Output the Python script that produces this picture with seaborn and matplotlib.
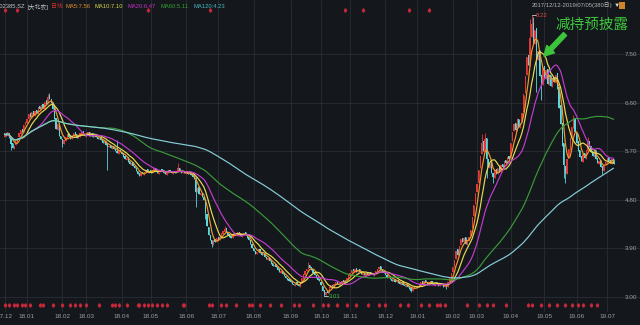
import matplotlib
matplotlib.use("Agg")
import matplotlib.pyplot as plt
import numpy as np
import pandas as pd
import seaborn as sns

# ---------------- data ----------------
start_date = "2017-12-12"
end_date = "2019-07-05"
exchange_holidays = [
    "2018-01-01", "2018-02-15", "2018-02-16", "2018-02-19", "2018-02-20", "2018-02-21",
    "2018-04-05", "2018-04-06", "2018-04-30", "2018-05-01", "2018-06-18", "2018-09-24",
    "2018-10-01", "2018-10-02", "2018-10-03", "2018-10-04", "2018-10-05", "2018-12-31",
    "2019-01-01", "2019-02-04", "2019-02-05", "2019-02-06", "2019-02-07", "2019-02-08",
    "2019-04-05", "2019-05-01", "2019-05-02", "2019-05-03", "2019-06-07",
]

close = [
    # 2017-12
    6.02, 5.98, 6.05, 5.95, 5.84, 5.76, 5.80, 5.88, 5.95, 6.03, 6.10, 6.06, 6.18, 6.24,
    # 2018-01
    6.30, 6.38, 6.33, 6.42, 6.36, 6.45, 6.40, 6.52, 6.48, 6.56, 6.50, 6.62, 6.58, 6.70,
    6.66, 6.60, 6.48, 6.30, 6.12, 6.20, 5.98, 5.92,
    # 2018-02
    5.84, 5.90, 5.96, 6.02, 5.97, 5.93, 5.99, 6.04, 6.00, 5.95, 5.98, 6.03, 6.06, 6.01, 5.98,
    # 2018-03
    6.02, 6.05, 5.99, 6.03, 5.97, 6.00, 5.96, 5.93, 5.95, 5.90, 5.86, 5.88, 5.82, 5.78,
    5.80, 5.76, 5.79, 5.74, 5.70, 5.66, 5.72, 5.68,
    # 2018-04
    5.64, 5.60, 5.55, 5.58, 5.50, 5.46, 5.49, 5.42, 5.38, 5.33, 5.28, 5.25, 5.30, 5.27,
    5.32, 5.36, 5.31, 5.34,
    # 2018-05
    5.30, 5.35, 5.38, 5.33, 5.29, 5.32, 5.36, 5.34, 5.30, 5.27, 5.31, 5.35, 5.33, 5.29,
    5.32, 5.30, 5.34, 5.38, 5.33, 5.30, 5.32, 5.29,
    # 2018-06
    5.31, 5.28, 5.30, 5.26, 5.22, 5.18, 4.95, 5.02, 4.90, 4.92, 4.85, 4.80, 4.55, 4.32,
    4.15, 4.05, 3.98, 4.06, 4.02, 4.10,
    # 2018-07
    4.06, 4.12, 4.18, 4.22, 4.26, 4.20, 4.15, 4.12, 4.10, 4.14, 4.18, 4.16, 4.20, 4.17,
    4.13, 4.16, 4.19, 4.15, 4.10, 4.05, 3.98, 3.90,
    # 2018-08
    3.85, 3.80, 3.84, 3.88, 3.82, 3.78, 3.80, 3.74, 3.70, 3.72, 3.66, 3.62, 3.58, 3.60,
    3.55, 3.50, 3.46, 3.48, 3.42, 3.38, 3.35, 3.32, 3.30,
    # 2018-09
    3.28, 3.24, 3.22, 3.26, 3.23, 3.20, 3.27, 3.35, 3.42, 3.48, 3.52, 3.58, 3.54, 3.50,
    3.45, 3.40, 3.36, 3.32, 3.30,
    # 2018-10
    3.22, 3.12, 3.05, 3.10, 3.08, 3.18, 3.22, 3.20, 3.25, 3.28, 3.24, 3.22, 3.26, 3.30,
    3.27, 3.32, 3.36, 3.40,
    # 2018-11
    3.45, 3.50, 3.48, 3.52, 3.47, 3.50, 3.46, 3.42, 3.44, 3.40, 3.43, 3.41, 3.45, 3.42,
    3.40, 3.44, 3.48, 3.52, 3.56, 3.50, 3.47, 3.44,
    # 2018-12
    3.40, 3.36, 3.38, 3.33, 3.30, 3.32, 3.28, 3.30, 3.26, 3.24, 3.27, 3.22, 3.20, 3.24,
    3.18, 3.15, 3.12, 3.16, 3.20, 3.18,
    # 2019-01
    3.20, 3.24, 3.28, 3.25, 3.30, 3.27, 3.23, 3.26, 3.29, 3.25, 3.22, 3.26, 3.24, 3.21,
    3.25, 3.22, 3.19, 3.24, 3.20, 3.28, 3.36, 3.45,
    # 2019-02
    3.55, 3.68, 3.85, 3.78, 3.95, 4.08, 4.02, 4.10, 3.98, 4.05, 4.12, 4.25, 4.48, 4.70, 4.92,
    # 2019-03
    5.10, 5.35, 5.62, 5.85, 5.70, 5.92, 5.55, 5.40, 5.48, 5.30, 5.22, 5.35, 5.28, 5.38,
    5.32, 5.45, 5.40, 5.52, 5.48, 5.60, 5.56,
    # 2019-04
    5.85, 6.05, 6.20, 6.10, 6.28, 6.15, 6.22, 6.40, 6.75, 7.10, 7.45, 7.30, 7.80, 8.05,
    7.70, 7.95, 7.40, 7.55, 7.10, 6.95, 7.25,
    # 2019-05
    7.05, 7.20, 6.95, 7.10, 6.90, 7.05, 6.98, 7.12, 6.85, 6.50, 6.20, 5.80, 5.45, 5.30,
    5.55, 5.75, 5.95, 6.15, 6.30, 6.05,
    # 2019-06
    5.85, 5.70, 5.60, 5.52, 5.65, 5.58, 5.72, 5.85, 5.78, 5.68, 5.62, 5.70, 5.55, 5.48,
    5.52, 5.40, 5.35, 5.45, 5.50,
    # 2019-07
    5.58, 5.52, 5.48, 5.55, 5.46,
]

open_price = [
    5.97, 6.03, 5.99, 6.04, 5.96, 5.85, 5.74, 5.81, 5.87, 5.96, 6.02, 6.12, 6.05, 6.19,
    6.22, 6.29, 6.40, 6.32, 6.44, 6.35, 6.47, 6.39, 6.54, 6.46, 6.58, 6.49, 6.64, 6.57,
    6.72, 6.67, 6.62, 6.50, 6.31, 6.10, 6.22, 5.99,
    5.93, 5.83, 5.89, 5.95, 6.03, 5.98, 5.92, 5.98, 6.05, 6.01, 5.94, 5.97, 6.02, 6.07, 6.00,
    5.97, 6.01, 6.06, 5.98, 6.04, 5.96, 6.01, 5.97, 5.92, 5.96, 5.91, 5.85, 5.89, 5.83,
    5.77, 5.81, 5.75, 5.80, 5.75, 5.71, 5.65, 5.73,
    5.69, 5.65, 5.61, 5.54, 5.59, 5.51, 5.45, 5.50, 5.43, 5.39, 5.34, 5.29, 5.24, 5.31,
    5.26, 5.31, 5.37, 5.30,
    5.35, 5.29, 5.34, 5.39, 5.34, 5.28, 5.31, 5.37, 5.35, 5.31, 5.26, 5.30, 5.36, 5.34,
    5.28, 5.33, 5.29, 5.33, 5.39, 5.34, 5.29, 5.33,
    5.28, 5.32, 5.27, 5.31, 5.27, 5.23, 5.16, 4.94, 5.03, 4.88, 4.93, 4.86, 4.78, 4.53,
    4.30, 4.14, 4.06, 3.97, 4.07, 4.01,
    4.11, 4.05, 4.11, 4.17, 4.21, 4.27, 4.21, 4.16, 4.13, 4.09, 4.13, 4.19, 4.15, 4.21,
    4.18, 4.12, 4.15, 4.20, 4.16, 4.11, 4.06, 3.99,
    3.91, 3.86, 3.79, 3.83, 3.89, 3.83, 3.77, 3.81, 3.75, 3.69, 3.73, 3.67, 3.63, 3.57,
    3.61, 3.56, 3.51, 3.45, 3.49, 3.43, 3.39, 3.36, 3.33,
    3.31, 3.29, 3.25, 3.21, 3.27, 3.24, 3.19, 3.26, 3.34, 3.41, 3.49, 3.51, 3.59, 3.55,
    3.51, 3.46, 3.41, 3.37, 3.33,
    3.28, 3.21, 3.13, 3.04, 3.11, 3.07, 3.17, 3.23, 3.19, 3.24, 3.29, 3.25, 3.21, 3.25,
    3.31, 3.26, 3.31, 3.35,
    3.39, 3.44, 3.51, 3.47, 3.53, 3.46, 3.51, 3.47, 3.41, 3.45, 3.39, 3.44, 3.40, 3.46,
    3.43, 3.39, 3.43, 3.47, 3.51, 3.57, 3.51, 3.48,
    3.45, 3.41, 3.35, 3.39, 3.34, 3.29, 3.33, 3.27, 3.31, 3.27, 3.23, 3.28, 3.23, 3.19,
    3.25, 3.19, 3.16, 3.11, 3.15, 3.21,
    3.17, 3.19, 3.23, 3.29, 3.24, 3.31, 3.28, 3.22, 3.25, 3.30, 3.26, 3.21, 3.27, 3.25,
    3.20, 3.26, 3.23, 3.18, 3.25, 3.19, 3.27, 3.35,
    3.46, 3.56, 3.70, 3.88, 3.77, 3.96, 4.10, 4.01, 4.12, 3.97, 4.04, 4.13, 4.27, 4.50, 4.72,
    4.95, 5.12, 5.38, 5.65, 5.88, 5.68, 5.95, 5.56, 5.38, 5.50, 5.29, 5.21, 5.37, 5.27,
    5.40, 5.31, 5.47, 5.39, 5.54, 5.46, 5.62,
    5.58, 5.88, 6.07, 6.22, 6.08, 6.30, 6.13, 6.24, 6.42, 6.78, 7.12, 7.48, 7.28, 7.82,
    8.08, 7.68, 7.98, 7.38, 7.58, 7.12, 6.93,
    7.28, 7.03, 7.22, 6.93, 7.12, 6.88, 7.07, 6.96, 7.14, 6.88, 6.55, 6.22, 5.85, 5.42,
    5.28, 5.57, 5.73, 5.97, 6.13, 6.32,
    6.03, 5.88, 5.72, 5.62, 5.50, 5.67, 5.56, 5.70, 5.88, 5.80, 5.70, 5.60, 5.72, 5.57,
    5.46, 5.54, 5.42, 5.33, 5.46,
    5.49, 5.60, 5.53, 5.47, 5.56,
]

# visible long shadows (day number -> extreme price)
upper_shadow_day = [27, 28, 31, 70, 108, 119, 137, 189, 297, 299, 319, 327, 328, 329, 354, 363]
upper_shadow_high = [6.76, 6.78, 6.55, 5.90, 5.48, 5.22, 4.32, 3.65, 6.02, 6.04, 6.32, 8.15, 8.22, 8.18, 6.37, 5.96]
lower_shadow_day = [4, 36, 64, 119, 125, 129, 199, 253, 275, 300, 304, 331, 334, 348, 349, 372]
lower_shadow_low = [5.72, 5.78, 5.35, 4.67, 4.45, 3.93, 3.01, 3.10, 3.15, 5.20, 5.12, 6.80, 6.65, 5.20, 5.11, 5.28]

ma_windows = [5, 10, 20, 60, 120]
ma_names = ["MA5", "MA10", "MA20", "MA60", "MA120"]
ma_header_values = ["7.56", "7.10", "6.47", "5.11", "4.23"]
price_ticks = [3.00, 3.90, 4.80, 5.70, 6.60, 7.50]

event_days_bottom = [0, 3, 6, 8, 11, 13, 16, 22, 24, 30, 36, 41, 44, 47, 51, 59, 67, 69, 71, 76,
                     83, 84, 87, 89, 92, 95, 98, 101, 111, 112, 127, 129, 135, 138, 144, 152,
                     154, 159, 165, 172, 180, 183, 192, 198, 201, 207, 213, 219, 226, 233, 237,
                     246, 251, 259, 264, 269, 271, 274, 288, 295, 300, 304, 312, 326, 328, 334,
                     339, 344, 349, 353, 357, 360, 365, 369]
event_days_top = [0, 8, 89, 128, 212, 223, 252, 264]

stock_code = "002385.SZ"
stock_name = "[大北农]"
period_name = "日线"
note_text = "减持预披露"

# ---------------- style ----------------
BG = "#14171c"
GRID = "#2a2e35"
UP = "#e23838"
DOWN = "#5ed6de"
TICK_C = "#9a9ea5"
ma_line_colors = ["#f29a25", "#e6dc55", "#c23ccf", "#3a9a3a", "#86cfd8"]
ma_text_colors = ["#e08f2a", "#d9d244", "#c030c0", "#33a033", "#45b8c2"]

sns.set_theme(style="dark", rc={"axes.facecolor": BG, "figure.facecolor": BG,
                                "savefig.facecolor": BG})
SMALL = ["Liberation Sans Narrow", "Liberation Sans", "Noto Sans CJK SC", "DejaVu Sans"]
plt.rcParams["font.family"] = SMALL

W, H = 640, 325
fig = plt.figure(figsize=(W / 100, H / 100), dpi=100)
ax = fig.add_axes([0, 13 / H, 1, 312 / H])
ax.set_facecolor(BG)

n = min(len(close), len(open_price))
o = np.array(open_price[:n], dtype=float)
c = np.array(close[:n], dtype=float)
days = np.arange(n)
dates = pd.bdate_range(start_date, end_date, freq="C", holidays=exchange_holidays)[:n]

hi = np.maximum(o, c)
lo = np.minimum(o, c)
hi[upper_shadow_day] = np.maximum(hi[upper_shadow_day], upper_shadow_high)
lo[lower_shadow_day] = np.minimum(lo[lower_shadow_day], lower_shadow_low)
is_up = c >= o
colors = np.where(is_up, UP, DOWN)

# candles
ax.vlines(days, lo, hi, colors=colors, linewidth=0.6, zorder=2)
body = np.maximum(np.abs(c - o), 0.012)
ax.bar(days, body, bottom=np.minimum(o, c), width=0.75, color=colors, linewidth=0, zorder=2)

# moving averages with seaborn
cs = pd.Series(c)
ma_df = pd.concat([
    pd.DataFrame({"day": days, "value": cs.rolling(w, min_periods=1).mean().values, "ma": name})
    for w, name in zip(ma_windows, ma_names)
], ignore_index=True)
sns.lineplot(data=ma_df, x="day", y="value", hue="ma", hue_order=ma_names,
             palette=dict(zip(ma_names, ma_line_colors)), linewidth=0.85,
             estimator=None, sort=False, legend=False, ax=ax, zorder=3)

# axes ranges (1 price unit = 54 px, 1 day = 1.607 px)
ax.set_ylim(3.0 - 15 / 54, 3.0 + 297 / 54)
ax.set_xlim(-4.5 / 1.607, (W - 4.5) / 1.607)
ax.set_xlabel("")
ax.set_ylabel("")

# ticks / grid
month_key = pd.Index(dates.strftime("%y.%m"))
first = ~month_key.duplicated()
ax.set_xticks(days[first])
ax.set_xticklabels(list(month_key[first]))
ax.set_yticks(price_ticks)
ax.set_yticklabels([f"{v:.2f}" for v in price_ticks])
ax.yaxis.tick_right()
ax.grid(True, color=GRID, linewidth=0.6)
ax.set_axisbelow(True)
ax.tick_params(axis="y", length=0, pad=-11, labelsize=4.6, labelcolor=TICK_C)
ax.tick_params(axis="x", length=0, pad=1.2, labelsize=4.6, labelcolor=TICK_C)
for s in ax.spines.values():
    s.set_visible(False)

# event markers rows
xt = ax.get_xaxis_transform()
ax.plot(event_days_bottom, [7 / 312] * len(event_days_bottom), linestyle="none",
        marker="d", markersize=1.8, color="#c8283a", transform=xt, zorder=4, clip_on=False)
ax.plot(event_days_top, [302 / 312] * len(event_days_top), linestyle="none",
        marker="d", markersize=1.8, color="#c8283a", transform=xt, zorder=4, clip_on=False)

# max / min labels
imax = int(np.argmax(hi))
imin = int(np.argmin(lo))
ax.plot([imax, imax + 2.5], [hi[imax], hi[imax]], color="#cfcfcf", linewidth=0.6, zorder=4)
ax.text(imax + 2.7, hi[imax], f"{hi[imax]:.2f}", color="#e04a4a", fontsize=4.3,
        va="center", ha="left", zorder=5)
ax.plot([imin, imin + 2.5], [lo[imin], lo[imin]], color="#cfcfcf", linewidth=0.6, zorder=4)
ax.text(imin + 2.7, lo[imin], f"{lo[imin]:.2f}", color="#3fbf3f", fontsize=4.3,
        va="center", ha="left", zorder=5)

# annotation
GREEN = "#3cc43c"
ax.text(365.3, 8.037, note_text, color=GREEN, fontsize=10.5, ha="center", va="center",
        family=["Noto Sans CJK SC", "DejaVu Sans"], zorder=6)
ax.annotate("", xy=(335.7, 7.46), xytext=(348.8, 7.87),
            arrowprops=dict(arrowstyle="simple,head_length=1.0,head_width=1.1,tail_width=0.45",
                            fc=GREEN, ec=GREEN, mutation_scale=7, shrinkA=0, shrinkB=0),
            zorder=6)

# header row, laid out left to right without overlap
renderer = fig.canvas.get_renderer()


def ptext(x_px, y_px, s, color, size=4.2, ha="left"):
    return fig.text(x_px / W, 1 - y_px / H, s, color=color, fontsize=size, ha=ha, va="center")


header = [(stock_code, "#c4c4c4", 2.5), (stock_name, "#c4c4c4", 1.5), (period_name, "#cc3333", 3.0)]
header += [(f"{nm}:{v}", col, 4.5) for nm, v, col in zip(ma_names, ma_header_values, ma_text_colors)]
cur = -3.0
for s, col, gap in header:
    t = ptext(cur, 7, s, col)
    bb = t.get_window_extent(renderer=renderer)
    cur = bb.x1 + gap

period_str = f"{dates[0]:%Y/%m/%d}-{dates[-1]:%Y/%m/%d}({n}日)"
ptext(612, 5, period_str, "#b4b4b4", ha="right")
ptext(617, 5, "▼", "#d8d8d8", size=4.5, ha="center")
fig.patches.append(plt.Rectangle((619 / W, 1 - 9 / H), 6 / W, 7 / H, transform=fig.transFigure,
                                 facecolor="#d0842a", edgecolor="none"))

fig.savefig("out.png", dpi=100, facecolor=BG)
